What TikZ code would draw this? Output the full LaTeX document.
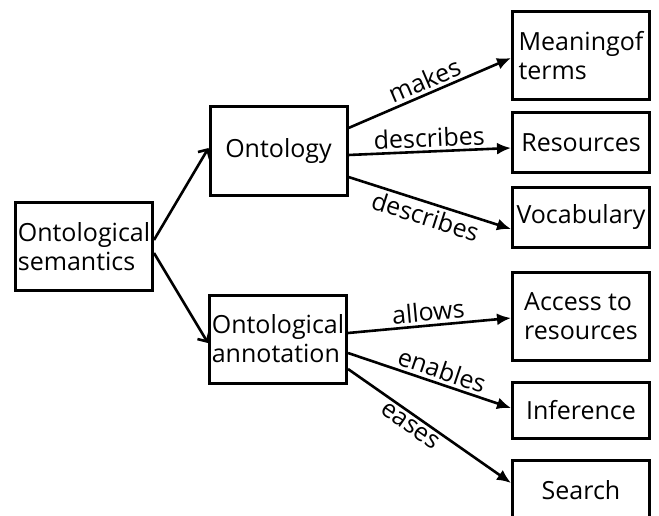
\documentclass[tikz,border=0pt]{standalone}
\usepackage{fontspec}
\setmainfont{Open Sans}
\usetikzlibrary{arrows.meta}
\tikzset{
  box/.style={draw, line width=3pt, minimum width=137pt, inner sep=1pt, font=\fontsize{25}{29}\selectfont},
  tallbox/.style={box, minimum height=88pt, align=left},
  shortbox/.style={box, minimum height=60pt},
  link/.style={line width=2.6pt, -{Latex[length=14pt,width=12pt]}},
  openlink/.style={line width=2.6pt, -{Straight Barb[length=7pt,width=14pt]}},
  lbl/.style={font=\fontsize{25}{29}\selectfont, sloped, midway, inner sep=3pt}
}
\begin{document}
\begin{tikzpicture}[x=1pt, y=1pt]
    \useasboundingbox (0,0) rectangle (659,515);

    % Knoten
    \node[tallbox] (sem) at (84, 268.5) {Ontological\\semantics};
    \node[tallbox, minimum height=89pt] (onto) at (278.5, 363.5) {\hfill Ontology\hfill\null};
    \node[tallbox] (annot) at (278, 176) {Ontological\\annotation};

    \node[tallbox] (meaning) at (581, 459.5) {Meaningof\\terms};
    \node[shortbox] (res) at (581, 372.5) {Resources};
    \node[shortbox] (vocab) at (581, 297.5) {Vocabulary};
    \node[tallbox] (access) at (581, 198.5) {Access to\\resources};
    \node[shortbox, minimum height=56pt] (infer) at (581, 105) {Inference};
    \node[shortbox] (search) at (581, 25) {Search};

    % Pfeile von links
    \draw[openlink] ([yshift=6.5pt]sem.east) -- ([yshift=3.5pt]onto.west);
    \draw[openlink] ([yshift=-6.5pt]sem.east) -- ([yshift=-4pt]annot.west);

    % Ontology
    \draw[link] ([yshift=23.5pt]onto.east) -- node[lbl, above] {makes} ([yshift=-2.5pt]meaning.west);
    \draw[link] ([yshift=-3.5pt]onto.east) -- node[lbl, above] {describes} ([yshift=-5.5pt]res.west);
    \draw[link] ([yshift=-25.5pt]onto.east) -- node[lbl, below] {describes} ([yshift=-11.5pt]vocab.west);

    % Annotation
    \draw[link] ([yshift=6pt]annot.east) -- node[lbl, above] {allows} ([yshift=-1.5pt]access.west);
    \draw[link] ([yshift=-14pt]annot.east) -- node[lbl, above, pos=0.55] {enables} ([yshift=2pt]infer.west);
    \draw[link] ([yshift=-30pt]annot.east) -- node[lbl, below, pos=0.42] {eases} ([yshift=7pt]search.west);
\end{tikzpicture}
\end{document}
